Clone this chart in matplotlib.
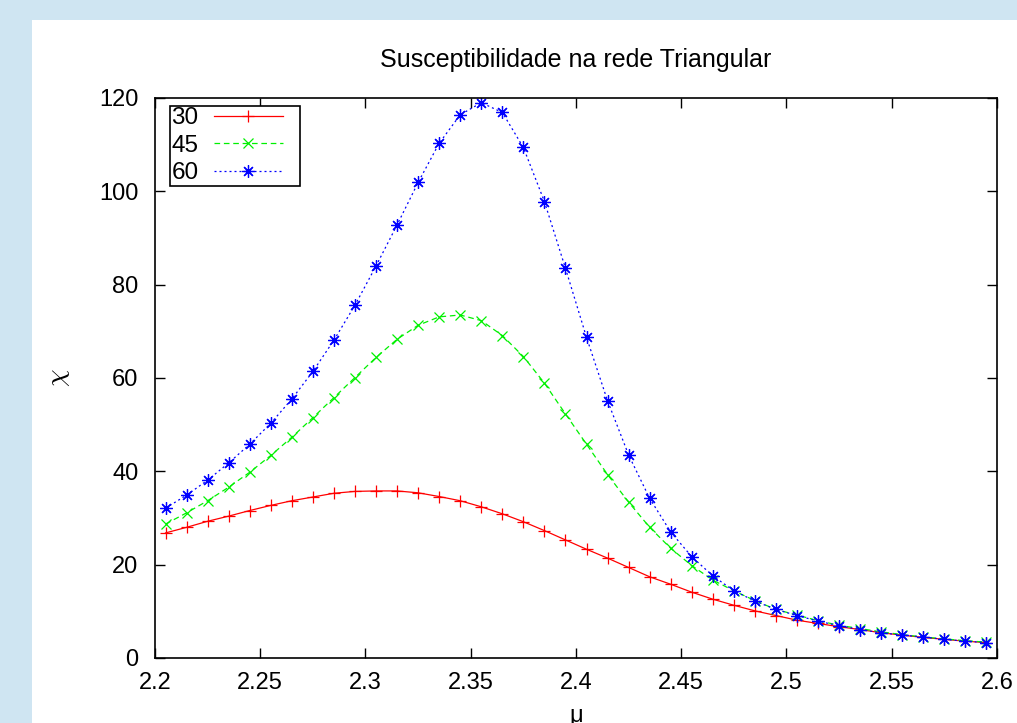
import matplotlib
matplotlib.use("Agg")
import matplotlib.pyplot as plt
from matplotlib.patches import Rectangle
from matplotlib.legend_handler import HandlerLine2D
import numpy as np

plt.rcParams['font.family'] = ['Liberation Sans', 'DejaVu Sans']
plt.rcParams['mathtext.fontset'] = 'cm'

mu = [2.205, 2.215, 2.225, 2.235, 2.245, 2.255, 2.265, 2.275, 2.285, 2.295,
      2.305, 2.315, 2.325, 2.335, 2.345, 2.355, 2.365, 2.375, 2.385, 2.395,
      2.405, 2.415, 2.425, 2.435, 2.445, 2.455, 2.465, 2.475, 2.485, 2.495,
      2.505, 2.515, 2.525, 2.535, 2.545, 2.555, 2.565, 2.575, 2.585, 2.595]

chi_30 = [26.8, 28.0, 29.3, 30.4, 31.6, 32.7, 33.7, 34.5, 35.3, 35.7,
          35.8, 35.8, 35.4, 34.6, 33.7, 32.4, 30.9, 29.2, 27.3, 25.3,
          23.3, 21.4, 19.4, 17.4, 15.8, 14.1, 12.6, 11.3, 10.1, 9.1,
          8.1, 7.4, 6.7, 6.1, 5.4, 4.9, 4.4, 4.0, 3.6, 3.3]

chi_45 = [28.7, 31.1, 33.7, 36.6, 39.8, 43.4, 47.3, 51.5, 55.8, 60.1,
          64.4, 68.3, 71.3, 73.1, 73.5, 72.3, 69.1, 64.6, 58.9, 52.3,
          45.8, 39.3, 33.4, 28.0, 23.5, 19.8, 16.7, 14.4, 12.3, 10.4,
          9.2, 8.0, 7.0, 6.3, 5.6, 5.0, 4.5, 4.1, 3.7, 3.4]

chi_60 = [32.1, 34.9, 38.1, 41.8, 45.8, 50.3, 55.5, 61.4, 68.1, 75.6,
          84.0, 92.8, 101.9, 110.3, 116.4, 119.0, 116.9, 109.4, 97.8, 83.5,
          68.7, 55.1, 43.5, 34.2, 27.0, 21.7, 17.6, 14.4, 12.2, 10.4,
          9.1, 7.9, 6.9, 6.1, 5.4, 4.9, 4.5, 4.0, 3.6, 3.3]

series_labels = ['30', '45', '60']
x_ticks = [2.2, 2.25, 2.3, 2.35, 2.4, 2.45, 2.5, 2.55, 2.6]
x_ticklabels = ['2.2', '2.25', '2.3', '2.35', '2.4', '2.45', '2.5', '2.55', '2.6']
y_ticks = [0, 20, 40, 60, 80, 100, 120]

W, H = 1017, 723
fig = plt.figure(figsize=(W / 100, H / 100), dpi=100)
fig.patch.set_facecolor('#cfe5f2')
fig.patches.append(Rectangle((32 / W, 0), 1 - 32 / W, 1 - 20 / H,
                             transform=fig.transFigure, facecolor='white',
                             edgecolor='none', zorder=-10))

L, R, T, B = 155, 997, 98, 658
ax = fig.add_axes([L / W, 1 - B / H, (R - L) / W, (B - T) / H])
ax.set_zorder(1)
ax.set_facecolor('white')

ax.plot(mu, chi_30, color='#ff0000', lw=0.9, linestyle='-', marker='+',
        markersize=9, markeredgewidth=0.9, label=series_labels[0])
ax.plot(mu, chi_45, color='#00f000', lw=0.9, dashes=(4.5, 3.0), marker='x',
        markersize=7.5, markeredgewidth=0.9, label=series_labels[1])
ax.plot(mu, chi_60, color='#0000ff', lw=0.9, dashes=(1.6, 2.4), marker=(8, 2, 0),
        markersize=9, markeredgewidth=0.9, label=series_labels[2])

ax.set_xlim(2.2, 2.6)
ax.set_ylim(0, 120)
ax.set_xticks(x_ticks)
ax.set_xticklabels(x_ticklabels)
ax.set_yticks(y_ticks)
ax.tick_params(direction='in', length=7, width=1.0, top=True, right=True,
               labelsize=17, colors='black')
ax.tick_params(axis='x', pad=10)
ax.tick_params(axis='y', pad=12)
for s in ax.spines.values():
    s.set_linewidth(1.2)
    s.set_color('black')

ax.set_title('Susceptibilidade na rede Triangular', fontsize=18, pad=22)
ax.set_ylabel(r'$\chi$', fontsize=20, rotation=90)
ax.yaxis.set_label_coords((59 - L) / (R - L), 0.5)
ax.yaxis.label.set_va('center')
ax.set_xlabel('μ', fontsize=17)
ax.xaxis.set_label_coords(0.5, (B - 722) / (B - T))
ax.xaxis.label.set_va('baseline')


class ShortLine(HandlerLine2D):
    def create_artists(self, legend, orig_handle, xdescent, ydescent,
                       width, height, fontsize, trans):
        return super().create_artists(legend, orig_handle, xdescent, ydescent,
                                      width - 11.5, height, fontsize, trans)


leg = ax.legend(loc='upper left', bbox_to_anchor=(15 / (R - L), 1 - 8 / (B - T)),
                borderaxespad=0, markerfirst=False, fontsize=17.5, frameon=True,
                fancybox=False, framealpha=1, edgecolor='black',
                handlelength=3.5, handletextpad=0.62, labelspacing=0.22,
                borderpad=0.06, numpoints=1,
                handler_map={matplotlib.lines.Line2D: ShortLine()})
leg.get_frame().set_linewidth(1.2)

fig.savefig('out.png', dpi=100, facecolor=fig.get_facecolor())
